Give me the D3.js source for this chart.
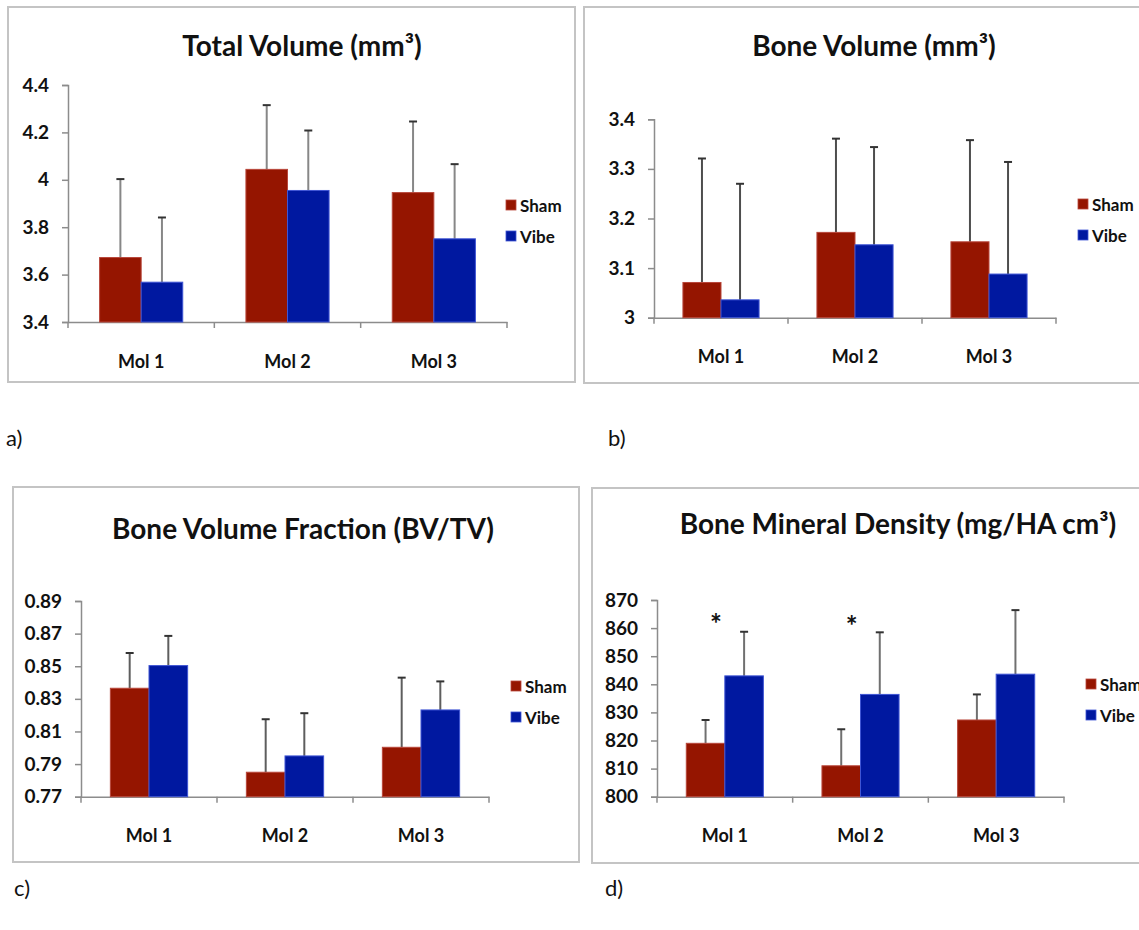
<!DOCTYPE html>
<html><head><meta charset="utf-8">
<script src="https://cdn.jsdelivr.net/npm/d3@7"></script>
<style>
body{margin:0;background:#fff}
svg{display:block}
text{font-family:Lato,"Open Sans",sans-serif;fill:#111}
</style>
</head><body>
<svg id="chart" width="1139" height="930"></svg>
<script>
// ---------- data ----------
const categories = ["Mol 1", "Mol 2", "Mol 3"];
const series = ["Sham", "Vibe"];

// a) Total Volume (mm³)
const tvSham = [3.672, 4.044, 3.946];
const tvShamErr = [0.331, 0.271, 0.300];
const tvVibe = [3.568, 3.955, 3.751];
const tvVibeErr = [0.273, 0.253, 0.315];
const tvTicks = [3.4, 3.6, 3.8, 4.0, 4.2, 4.4];
const tvTickLabels = ["3.4", "3.6", "3.8", "4", "4.2", "4.4"];

// b) Bone Volume (mm³)
const bvSham = [3.071, 3.172, 3.153];
const bvShamErr = [0.250, 0.189, 0.205];
const bvVibe = [3.036, 3.147, 3.088];
const bvVibeErr = [0.234, 0.197, 0.226];
const bvTicks = [3.0, 3.1, 3.2, 3.3, 3.4];
const bvTickLabels = ["3", "3.1", "3.2", "3.3", "3.4"];

// c) Bone Volume Fraction (BV/TV)
const bvtvSham = [0.8365, 0.785, 0.8003];
const bvtvShamErr = [0.0216, 0.0325, 0.0427];
const bvtvVibe = [0.8504, 0.795, 0.8232];
const bvtvVibeErr = [0.0182, 0.0262, 0.0175];
const bvtvTicks = [0.77, 0.79, 0.81, 0.83, 0.85, 0.87, 0.89];
const bvtvTickLabels = ["0.77", "0.79", "0.81", "0.83", "0.85", "0.87", "0.89"];

// d) Bone Mineral Density (mg/HA cm³)
const bmdSham = [819.0, 811.0, 827.3];
const bmdShamErr = [8.3, 13.0, 9.1];
const bmdVibe = [843.0, 836.4, 843.6];
const bmdVibeErr = [15.7, 22.1, 22.8];
const bmdTicks = [800, 810, 820, 830, 840, 850, 860, 870];
const bmdTickLabels = ["800", "810", "820", "830", "840", "850", "860", "870"];
const bmdMarks = ["*", "*", ""];
const bmdMarkLevel = [864, 863.5, null];

// ---------- layout ----------
const colors = {Sham: "#951500", Vibe: "#0018a0"};
const edges = {Sham: "#b8463a", Vibe: "#3f55d4"};

const panels = [
  {title: "Total Volume (mm³)", tag: "a)", sham: tvSham, shamErr: tvShamErr, vibe: tvVibe, vibeErr: tvVibeErr,
   ticks: tvTicks, tickLabels: tvTickLabels,
   box: [8, 7, 575, 382], plot: {l: 68, r: 507, t: 85, b: 322}, titleX: 302, titleY: 56,
   legend: {x: 506, y: 200}, tagPos: [6, 446], errColor: "#878787"},
  {title: "Bone Volume (mm³)", tag: "b)", sham: bvSham, shamErr: bvShamErr, vibe: bvVibe, vibeErr: bvVibeErr,
   ticks: bvTicks, tickLabels: bvTickLabels,
   box: [584, 7, 1170, 383], plot: {l: 654, r: 1056, t: 119.3, b: 317.7}, titleX: 874, titleY: 56,
   legend: {x: 1078, y: 199}, tagPos: [608, 446], errColor: "#4d4d4d"},
  {title: "Bone Volume Fraction (BV/TV)", tag: "c)", sham: bvtvSham, shamErr: bvtvShamErr, vibe: bvtvVibe, vibeErr: bvtvVibeErr,
   ticks: bvtvTicks, tickLabels: bvtvTickLabels,
   box: [13, 487, 579, 862], plot: {l: 81, r: 489, t: 601, b: 796.7}, titleX: 303, titleY: 539,
   legend: {x: 511, y: 681}, tagPos: [14, 896], errColor: "#5e5e5e"},
  {title: "Bone Mineral Density (mg/HA cm³)", tag: "d)", sham: bmdSham, shamErr: bmdShamErr, vibe: bmdVibe, vibeErr: bmdVibeErr,
   ticks: bmdTicks, tickLabels: bmdTickLabels, marks: bmdMarks, markLevel: bmdMarkLevel,
   box: [592, 488, 1170, 863], plot: {l: 657, r: 1064, t: 600, b: 796.7}, titleX: 898, titleY: 534,
   legend: {x: 1086, y: 679}, tagPos: [605, 896], errColor: "#707070"}
];

const svg = d3.select("#chart");
svg.append("rect").attr("width", 1139).attr("height", 930).attr("fill", "#fff");

panels.forEach(p => {
  const g = svg.append("g");
  // frame
  g.append("rect")
    .attr("x", p.box[0]).attr("y", p.box[1])
    .attr("width", p.box[2] - p.box[0]).attr("height", p.box[3] - p.box[1])
    .attr("fill", "#fff").attr("stroke", "#c4c4c4").attr("stroke-width", 2);

  // title
  g.append("text").attr("x", p.titleX).attr("y", p.titleY)
    .attr("text-anchor", "middle").attr("font-weight", 700).attr("font-size", 28)
    .text(p.title);

  // panel tag
  svg.append("text").attr("x", p.tagPos[0]).attr("y", p.tagPos[1])
    .attr("font-size", 22).attr("font-weight", 400).text(p.tag);

  const y = d3.scaleLinear()
    .domain([p.ticks[0], p.ticks[p.ticks.length - 1]])
    .range([p.plot.b, p.plot.t]);
  const x = d3.scaleBand().domain(categories).range([p.plot.l, p.plot.r]).paddingInner(0).paddingOuter(0);
  const xs = d3.scaleBand().domain(series).range([0, x.bandwidth()]).paddingInner(0).paddingOuter(0.76);

  // y axis
  const yAxis = d3.axisLeft(y).tickValues(p.ticks)
    .tickFormat((d, i) => p.tickLabels[i]).tickSize(6).tickPadding(13);
  const ya = g.append("g").attr("transform", `translate(${p.plot.l},0)`).call(yAxis);
  ya.select(".domain").attr("stroke", "#8c8c8c").attr("stroke-width", 1.5);
  ya.selectAll(".tick line").attr("stroke", "#8c8c8c").attr("stroke-width", 1.5);
  ya.selectAll(".tick text").attr("font-size", 19).attr("font-weight", 700)
    .attr("fill", "#111").attr("font-family", "Lato, sans-serif");

  // x axis
  const xAxis = d3.axisBottom(x).tickSize(0).tickPadding(33);
  const xa = g.append("g").attr("transform", `translate(0,${p.plot.b})`).call(xAxis);
  xa.select(".domain").attr("stroke", "#8c8c8c").attr("stroke-width", 1.5);
  xa.selectAll(".tick text").attr("font-size", 18).attr("font-weight", 700)
    .attr("fill", "#111").attr("font-family", "Lato, sans-serif");
  const edgesX = categories.map(c => x(c)).concat([x(categories[categories.length - 1]) + x.bandwidth()]);
  g.selectAll(".cattick").data(edgesX).join("line")
    .attr("x1", d => d).attr("x2", d => d)
    .attr("y1", p.plot.b).attr("y2", p.plot.b + 6)
    .attr("stroke", "#8c8c8c").attr("stroke-width", 1.5);

  // bars
  const rows = [];
  categories.forEach((c, i) => {
    rows.push({cat: c, s: "Sham", v: p.sham[i], e: p.shamErr[i]});
    rows.push({cat: c, s: "Vibe", v: p.vibe[i], e: p.vibeErr[i]});
  });
  const cw = 8;
  g.selectAll(".errv").data(rows).join("line")
    .attr("x1", d => x(d.cat) + xs(d.s) + xs.bandwidth() / 2)
    .attr("x2", d => x(d.cat) + xs(d.s) + xs.bandwidth() / 2)
    .attr("y1", d => y(d.v)).attr("y2", d => y(d.v + d.e))
    .attr("stroke", p.errColor).attr("stroke-width", 2);
  g.selectAll(".errc").data(rows).join("line")
    .attr("x1", d => x(d.cat) + xs(d.s) + xs.bandwidth() / 2 - cw / 2)
    .attr("x2", d => x(d.cat) + xs(d.s) + xs.bandwidth() / 2 + cw / 2)
    .attr("y1", d => y(d.v + d.e)).attr("y2", d => y(d.v + d.e))
    .attr("stroke", "#333").attr("stroke-width", 2);

  g.selectAll(".bar").data(rows).join("rect")
    .attr("x", d => x(d.cat) + xs(d.s))
    .attr("y", d => y(d.v))
    .attr("width", xs.bandwidth())
    .attr("height", d => y(p.ticks[0]) - y(d.v))
    .attr("fill", d => colors[d.s])
    .attr("stroke", d => edges[d.s]).attr("stroke-width", 1);

  // significance marks
  if (p.marks) {
    categories.forEach((c, i) => {
      if (!p.marks[i]) return;
      g.append("text")
        .attr("x", x(c) + x.bandwidth() * 0.435)
        .attr("y", y(p.markLevel[i]))
        .attr("dy", "0.62em")
        .attr("text-anchor", "middle").attr("font-size", 28).attr("font-weight", 700)
        .text(p.marks[i]);
    });
  }

  // legend
  series.forEach((s, i) => {
    const ly = p.legend.y + i * 31;
    g.append("rect").attr("x", p.legend.x).attr("y", ly).attr("width", 10).attr("height", 10)
      .attr("fill", colors[s]).attr("stroke", edges[s]).attr("stroke-width", 0.8);
    g.append("text").attr("x", p.legend.x + 14).attr("y", ly + 12)
      .attr("font-size", 17).attr("font-weight", 700).text(s);
  });
});
</script>
</body></html>
